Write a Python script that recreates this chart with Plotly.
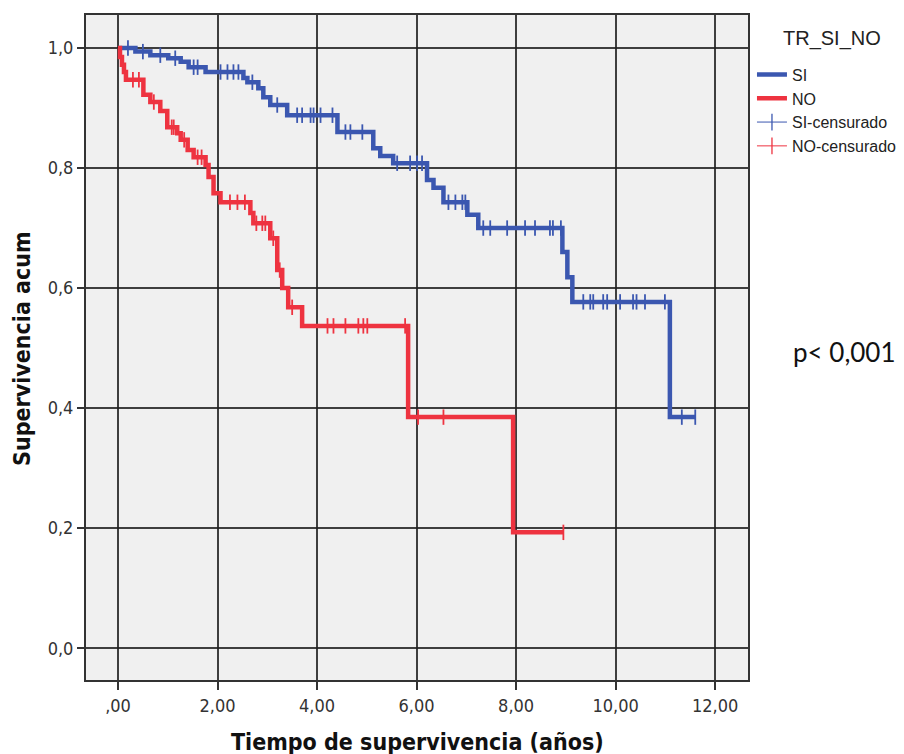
import plotly.graph_objects as go

# ---- data ----
si_t = [0, 0.35, 0.65, 1.01, 1.26, 1.42, 1.76, 2.52, 2.60, 2.82, 2.92, 3.06, 3.40,
        4.41, 5.13, 5.27, 5.53, 6.21, 6.34, 6.54, 7.02, 7.24, 8.93, 9.03, 9.13, 11.09]
si_s = [1.0, 0.994, 0.988, 0.983, 0.977, 0.968, 0.96, 0.95, 0.943, 0.933, 0.918, 0.905, 0.888,
        0.86, 0.833, 0.82, 0.808, 0.78, 0.767, 0.743, 0.722, 0.70, 0.66, 0.618, 0.577, 0.385]
si_cens = [0.2, 0.5, 0.85, 1.15, 1.52, 1.60, 2.06, 2.2, 2.32, 2.42, 2.7, 3.2, 3.6, 3.7,
           3.87, 3.93, 4.07, 4.31, 4.57, 4.67, 4.91, 5.61, 5.87, 6.01, 6.11, 6.64, 6.78,
           6.92, 6.98, 7.34, 7.48, 7.82, 8.18, 8.38, 8.68, 8.74, 8.90, 9.35, 9.49, 9.55,
           9.75, 9.83, 10.09, 10.35, 10.42, 10.59, 10.99, 11.33, 11.6]

no_t = [0, 0.04, 0.08, 0.12, 0.16, 0.51, 0.65, 0.85, 0.99, 1.19, 1.26, 1.40, 1.52, 1.76,
        1.82, 1.92, 2.06, 2.66, 2.72, 3.06, 3.20, 3.30, 3.42, 3.70, 5.83, 7.94]
no_s = [1.0, 0.985, 0.972, 0.96, 0.947, 0.922, 0.91, 0.895, 0.868, 0.858, 0.847, 0.83,
        0.818, 0.805, 0.785, 0.758, 0.743, 0.725, 0.708, 0.683, 0.63, 0.60, 0.568, 0.537,
        0.385, 0.193]
no_cens = [0.3, 0.42, 0.72, 1.08, 1.12, 1.33, 1.6, 1.68, 2.25, 2.4, 2.55, 2.78, 2.9, 2.96,
           3.12, 3.25, 3.5, 4.21, 4.33, 4.57, 4.83, 4.93, 5.01, 5.77, 6.03, 6.54, 8.95]

x_ticks = [0, 2, 4, 6, 8, 10, 12]
x_labels = [",00", "2,00", "4,00", "6,00", "8,00", "10,00", "12,00"]
y_ticks = [0, 0.2, 0.4, 0.6, 0.8, 1.0]
y_labels = ["0,0", "0,2", "0,4", "0,6", "0,8", "1,0"]

BLUE = "#3b57b0"
RED = "#ee3340"


def step_value(ts, ss, t):
    v = ss[0]
    for ti, si in zip(ts, ss):
        if ti <= t:
            v = si
    return v


def curve(ts, ss, cens):
    end = max(cens + [ts[-1]])
    return ts + [end], ss + [ss[-1]]


fig = go.Figure()

for name, ts, ss, cens, col in [("SI", si_t, si_s, si_cens, BLUE),
                                ("NO", no_t, no_s, no_cens, RED)]:
    cx, cy = curve(ts, ss, cens)
    fig.add_trace(go.Scatter(x=cx, y=cy, mode="lines", line=dict(color=col, width=4.5, shape="hv"),
                             name=name, showlegend=True, hoverinfo="skip"))

for name, ts, ss, cens, col in [("SI", si_t, si_s, si_cens, BLUE),
                                ("NO", no_t, no_s, no_cens, RED)]:
    fig.add_trace(go.Scatter(x=cens, y=[step_value(ts, ss, c) for c in cens], mode="markers",
                             marker=dict(symbol="line-ns", size=11, line=dict(color=col, width=1.8)),
                             showlegend=False, hoverinfo="skip"))

for name, col in [("SI-censurado", BLUE), ("NO-censurado", RED)]:
    fig.add_trace(go.Scatter(x=[None], y=[None], mode="lines+markers", name=name,
                             line=dict(color=col, width=1),
                             marker=dict(symbol="line-ns", size=12, line=dict(color=col, width=1.3))))

NARROW = "Liberation Sans Narrow, Arial Narrow, DejaVu Sans Condensed, sans-serif"
tickfont = dict(family=NARROW, size=18, color="#333333")
titlefont = dict(family=NARROW, size=23, color="#111111")

fig.update_xaxes(range=[-0.643, 12.66], tickvals=x_ticks, ticktext=x_labels, tickfont=tickfont,
                 showgrid=True, gridcolor="rgba(30,30,30,0.85)", gridwidth=2, zeroline=False,
                 showline=True, linecolor="#333333", linewidth=2, mirror=True,
                 ticks="outside", ticklen=8, tickwidth=2, tickcolor="#333333")
fig.update_yaxes(range=[-0.053, 1.055], tickvals=y_ticks, ticktext=y_labels, tickfont=tickfont,
                 showgrid=True, gridcolor="rgba(30,30,30,0.85)", gridwidth=2, zeroline=False,
                 showline=True, linecolor="#333333", linewidth=2, mirror=True,
                 ticks="outside", ticklen=7, tickwidth=2, tickcolor="#333333")

fig.update_layout(
    width=904, height=754,
    margin=dict(l=86, r=156, t=15, b=74, autoexpand=False),
    plot_bgcolor="#f0f0f0", paper_bgcolor="white",
    legend=dict(x=1.006, y=0.936, xanchor="left", yanchor="top",
                font=dict(family="Liberation Sans, Arial, sans-serif", size=16, color="#222222"),
                itemwidth=30, tracegroupgap=0, bgcolor="rgba(0,0,0,0)"),
    annotations=[
        dict(text="TR_SI_NO", xref="paper", yref="paper", x=1.1265, y=0.965,
             xanchor="center", yanchor="middle", showarrow=False,
             font=dict(family="Liberation Sans, Arial, sans-serif", size=20, color="#222222")),
        dict(text="<b>Tiempo de supervivencia (años)</b>", xref="paper", yref="paper",
             x=0.5, y=-0.093, xanchor="center", yanchor="middle", showarrow=False, font=titlefont),
        dict(text="<b>Supervivencia acum</b>", xref="paper", yref="paper", textangle=-90,
             x=-0.097, y=0.499, xanchor="center", yanchor="middle", showarrow=False, font=titlefont),
        dict(text="p< 0,001", xref="paper", yref="paper", x=1.1465, y=0.493,
             xanchor="center", yanchor="middle", showarrow=False,
             font=dict(family="Lato, Open Sans, sans-serif", size=26, color="#111111")),
    ],
)

fig.write_html("out.html")
